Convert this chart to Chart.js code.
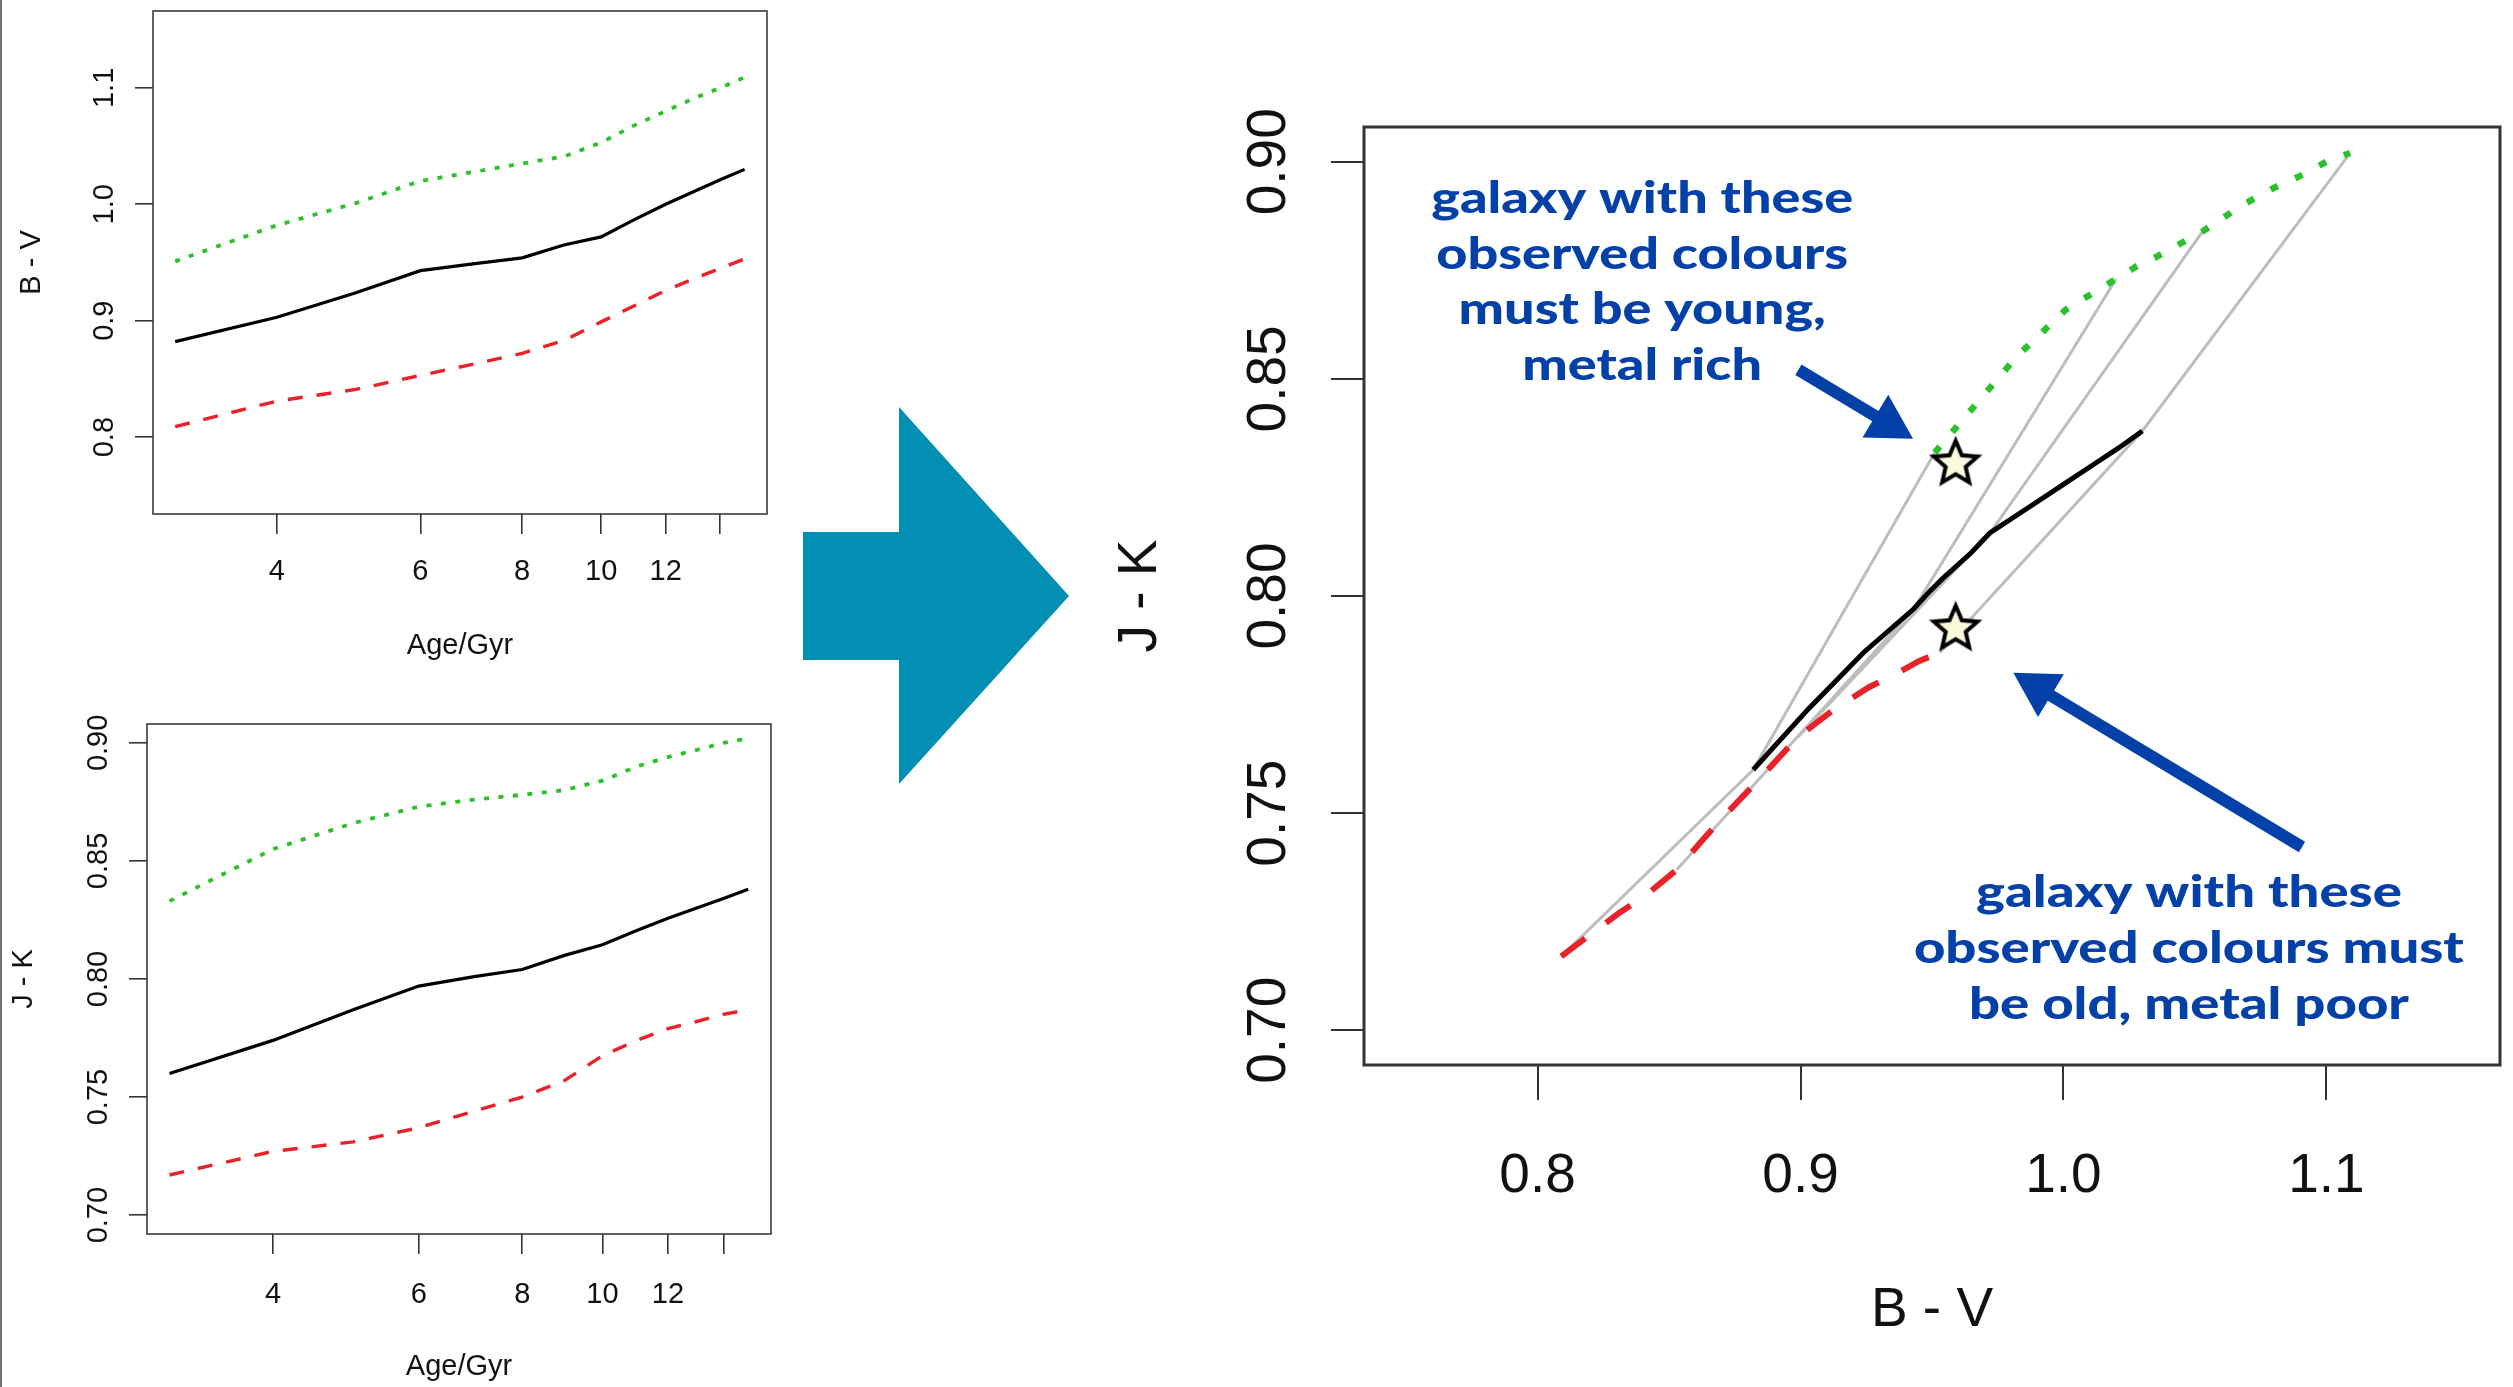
<!DOCTYPE html>
<html>
<head>
<meta charset="utf-8">
<script src="https://cdn.jsdelivr.net/npm/chart.js@4.4.1/dist/chart.umd.min.js"></script>
<style>
  html, body { margin: 0; padding: 0; background: #fff; }
  body { width: 2513px; height: 1387px; position: relative; overflow: hidden; }
  canvas { position: absolute; }
  #edge { position: absolute; left: 0; top: 0; width: 2px; height: 1387px; background: #707070; }
  #bigArrow { position: absolute; left: 0; top: 0; }
</style>
</head>
<body>
<div id="edge"></div>
<svg id="bigArrow" width="1100" height="1387">
  <polygon points="803,532 899,532 899,407 1069,596 899,784 899,660 803,660" fill="#038eb4"/>
</svg>
<canvas id="bvAge"></canvas>
<canvas id="jkAge"></canvas>
<canvas id="colourColour"></canvas>
<script>
// model colours against age, three metallicities
const ages = [3, 4, 5, 6, 7, 8, 9, 10, 11, 12, 13, 14, 15];
const bvRich  = [0.951, 0.982, 1.001, 1.020, 1.028, 1.035, 1.041, 1.053, 1.068, 1.080, 1.091, 1.100, 1.109];
const bvSolar = [0.882, 0.903, 0.924, 0.943, 0.949, 0.954, 0.965, 0.972, 0.987, 1.000, 1.011, 1.021, 1.030];
const bvPoor  = [0.809, 0.831, 0.841, 0.853, 0.863, 0.872, 0.883, 0.899, 0.913, 0.926, 0.936, 0.945, 0.953];
const jkRich  = [0.833, 0.855, 0.866, 0.873, 0.876, 0.878, 0.880, 0.884, 0.890, 0.894, 0.897, 0.900, 0.902];
const jkSolar = [0.760, 0.774, 0.787, 0.797, 0.801, 0.804, 0.810, 0.8145, 0.8205, 0.8257, 0.8301, 0.8341, 0.838];
const jkPoor  = [0.717, 0.727, 0.731, 0.737, 0.744, 0.750, 0.757, 0.7675, 0.774, 0.779, 0.782, 0.785, 0.787];

// grey lines join the three metallicities at these ages
const isochroneAges = [3, 6, 10, 15];

// observed galaxies (B-V, J-K)
const observedBV = [0.959, 0.959];
const observedJK = [0.831, 0.793];

// axis ticks
const ageTicks = [4, 6, 8, 10, 12, 14];
const ageTickLabels = ['4', '6', '8', '10', '12', ''];
const bvTicks = [0.8, 0.9, 1.0, 1.1];
const bvTickLabels = ['0.8', '0.9', '1.0', '1.1'];
const jkTicks = [0.70, 0.75, 0.80, 0.85, 0.90];
const jkTickLabels = ['0.70', '0.75', '0.80', '0.85', '0.90'];

// annotations
const youngNote = ['galaxy with these', 'observed colours', 'must be young,', 'metal rich'];
const oldNote = ['galaxy with these', 'observed colours must', 'be old, metal poor'];

const SANS = "'Liberation Sans', Arial, Helvetica, sans-serif";
const NOTE_BLUE = '#0340a8';

function place(cv, f) {
  cv.width = f.width;
  cv.height = f.height;
  cv.style.left = f.left + 'px';
  cv.style.top = f.top + 'px';
  cv.style.width = f.width + 'px';
  cv.style.height = f.height + 'px';
}

function pairs(xs, ys) {
  return xs.map((x, i) => ({ x: x, y: ys[i] }));
}

const boxPlugin = {
  id: 'box',
  afterDatasetsDraw(chart, args, opts) {
    const a = chart.chartArea;
    const ctx = chart.ctx;
    ctx.save();
    ctx.strokeStyle = opts.color;
    ctx.lineWidth = opts.width;
    ctx.strokeRect(a.left, a.top, a.right - a.left, a.bottom - a.top);
    ctx.restore();
  }
};

function axis(o) {
  return {
    type: o.type || 'linear',
    bounds: 'data',
    min: o.min,
    max: o.max,
    afterFit: o.fit,
    afterBuildTicks: s => { s.ticks = o.ticks.map(v => ({ value: v })); },
    ticks: {
      autoSkip: false,
      minRotation: o.rot, maxRotation: o.rot,
      crossAlign: o.rot ? 'center' : 'near',
      padding: o.pad,
      color: '#111',
      font: { family: SANS, size: o.size },
      callback: (v, i) => o.labels[i]
    },
    grid: { drawOnChartArea: false, drawTicks: true, tickLength: o.tl, color: '#333', lineWidth: o.tw },
    border: { display: false },
    title: {
      display: true, text: o.title, color: '#111',
      font: { family: SANS, size: o.size },
      padding: o.titlePad
    }
  };
}

function line(data, colour, width, dash) {
  return { data: data, showLine: true, pointRadius: 0, borderColor: colour, borderWidth: width, borderDash: dash || [] };
}

function agePanel(id, frame, box, yOpts, poor, solar, rich) {
  const cv = document.getElementById(id);
  place(cv, frame);
  return new Chart(cv, {
    type: 'scatter',
    data: {
      datasets: [
        line(pairs(ages, solar), '#000', 3.2),
        line(pairs(ages, poor), '#e8222a', 3.4, [15, 14]),
        line(pairs(ages, rich), '#2cc02c', 3.8, [5, 9.5])
      ]
    },
    options: {
      responsive: false,
      animation: false,
      events: [],
      layout: { padding: { left: 0, top: box.top - frame.top, right: frame.left + frame.width - box.right, bottom: 0 } },
      plugins: { legend: { display: false }, tooltip: { enabled: false }, box: { color: '#3a3a3a', width: 1.6 } },
      scales: {
        x: axis({
          type: 'logarithmic', min: 2.818, max: 15.98, ticks: ageTicks, labels: ageTickLabels,
          rot: 0, pad: box.xPad, size: 29, tl: 20, tw: 1.6, title: 'Age/Gyr',
          titlePad: { top: 0, bottom: box.xTitlePad },
          fit: s => { s.height = frame.top + frame.height - box.bottom; }
        }),
        y: axis(Object.assign({
          rot: 90, size: 29, tl: 18, tw: 1.6,
          fit: s => { s.width = box.left - frame.left; }
        }, yOpts))
      }
    },
    plugins: [boxPlugin]
  });
}

agePanel('bvAge',
  { left: 0, top: -40, width: 790, height: 720 },
  { left: 153, top: 11, right: 767, bottom: 514, xPad: 21, xTitlePad: 16.6 },
  { min: 0.734, max: 1.166, ticks: bvTicks, labels: bvTickLabels, pad: 10, title: 'B - V', titlePad: { top: 14.6, bottom: 0 } },
  bvPoor, bvSolar, bvRich);

agePanel('jkAge',
  { left: 0, top: 690, width: 790, height: 697 },
  { left: 147, top: 724, right: 771, bottom: 1234, xPad: 23.6, xTitlePad: 2.6 },
  { min: 0.692, max: 0.908, ticks: jkTicks, labels: jkTickLabels, pad: 2, title: 'J - K', titlePad: { top: 6.6, bottom: 0 } },
  jkPoor, jkSolar, jkRich);

// colour-colour diagram
function starImage(outer, inner, lw) {
  const size = Math.ceil(2 * outer + 4 * lw + 8);
  const c = document.createElement('canvas');
  c.width = size; c.height = size;
  const g = c.getContext('2d');
  g.translate(size / 2, size / 2 + outer * 0.1);
  g.beginPath();
  for (let k = 0; k < 10; k++) {
    const r = k % 2 ? inner : outer;
    const a = -Math.PI / 2 + k * Math.PI / 5;
    g.lineTo(r * Math.cos(a), r * Math.sin(a));
  }
  g.closePath();
  g.fillStyle = '#fbf9dc';
  g.fill();
  g.lineWidth = lw;
  g.lineJoin = 'miter';
  g.strokeStyle = '#000';
  g.stroke();
  return c;
}

function drawArrow(ctx, x0, y0, x1, y1) {
  const len = Math.hypot(x1 - x0, y1 - y0);
  const head = 44, half = 25, shaft = 6;
  ctx.save();
  ctx.translate(x1, y1);
  ctx.rotate(Math.atan2(y1 - y0, x1 - x0));
  ctx.beginPath();
  ctx.moveTo(-len, -shaft);
  ctx.lineTo(-head, -shaft);
  ctx.lineTo(-head, -half);
  ctx.lineTo(0, 0);
  ctx.lineTo(-head, half);
  ctx.lineTo(-head, shaft);
  ctx.lineTo(-len, shaft);
  ctx.closePath();
  ctx.fillStyle = NOTE_BLUE;
  ctx.fill();
  ctx.restore();
}

function drawNote(ctx, lines, cx, by, step, width) {
  ctx.save();
  ctx.font = '900 43px Lato, "Open Sans", sans-serif';
  ctx.fillStyle = NOTE_BLUE;
  ctx.textAlign = 'center';
  ctx.textBaseline = 'alphabetic';
  const widest = Math.max(...lines.map(t => ctx.measureText(t).width));
  const sx = width / widest;
  lines.forEach((t, i) => {
    ctx.save();
    ctx.translate(cx, by + i * step);
    ctx.scale(sx, 1);
    ctx.fillText(t, 0, 0);
    ctx.restore();
  });
  ctx.restore();
}

const notePlugin = {
  id: 'notes',
  afterDraw(chart) {
    const { ctx, scales: { x, y } } = chart;
    drawArrow(ctx, x.getPixelForValue(0.8992), y.getPixelForValue(0.8521), x.getPixelForValue(0.9428), y.getPixelForValue(0.8362));
    drawArrow(ctx, x.getPixelForValue(1.0907), y.getPixelForValue(0.7422), x.getPixelForValue(0.9809), y.getPixelForValue(0.7823));
    drawNote(ctx, youngNote, x.getPixelForValue(0.8398), y.getPixelForValue(0.8881), 55.5, 422);
    drawNote(ctx, oldNote, x.getPixelForValue(1.0477), y.getPixelForValue(0.7284), 56, 550);
  }
};

const ccFrame = { left: 1100, top: 40, width: 1413, height: 1347 };
const ccBox = { left: 1364, top: 127, right: 2505, bottom: 1065 };
const ccCanvas = document.getElementById('colourColour');
place(ccCanvas, ccFrame);

const isochrones = isochroneAges.map(a => {
  const i = ages.indexOf(a);
  return line([
    { x: bvPoor[i], y: jkPoor[i] },
    { x: bvSolar[i], y: jkSolar[i] },
    { x: bvRich[i], y: jkRich[i] }
  ], '#bdbdbd', 3);
});

new Chart(ccCanvas, {
  type: 'scatter',
  data: {
    datasets: [
      { data: pairs(observedBV, observedJK), pointStyle: starImage(23, 10.5, 4), pointRadius: 12, showLine: false },
      line(pairs(bvSolar, jkSolar), '#000', 5),
      line(pairs(bvPoor, jkPoor), '#e8222a', 6, [30, 26]),
      line(pairs(bvRich, jkRich), '#2cc02c', 6.5, [8, 19]),
      ...isochrones
    ]
  },
  options: {
    responsive: false,
    animation: false,
    events: [],
    layout: { padding: { left: 0, top: ccBox.top - ccFrame.top, right: ccFrame.left + ccFrame.width - ccBox.right, bottom: 0 } },
    plugins: { legend: { display: false }, tooltip: { enabled: false }, box: { color: '#333', width: 3 } },
    scales: {
      x: axis({
        min: 0.734, max: 1.166, ticks: bvTicks, labels: bvTickLabels,
        rot: 0, pad: 44, size: 55, tl: 35, tw: 2, title: 'B - V',
        titlePad: { top: 0, bottom: 43 },
        fit: s => { s.height = ccFrame.top + ccFrame.height - ccBox.bottom; }
      }),
      y: axis({
        min: 0.692, max: 0.908, ticks: jkTicks, labels: jkTickLabels,
        rot: 90, pad: 7.5, size: 55, tl: 33, tw: 2, title: 'J - K',
        titlePad: { top: 8, bottom: 0 },
        fit: s => { s.width = ccBox.left - ccFrame.left; }
      })
    }
  },
  plugins: [boxPlugin, notePlugin]
});
</script>
</body>
</html>
